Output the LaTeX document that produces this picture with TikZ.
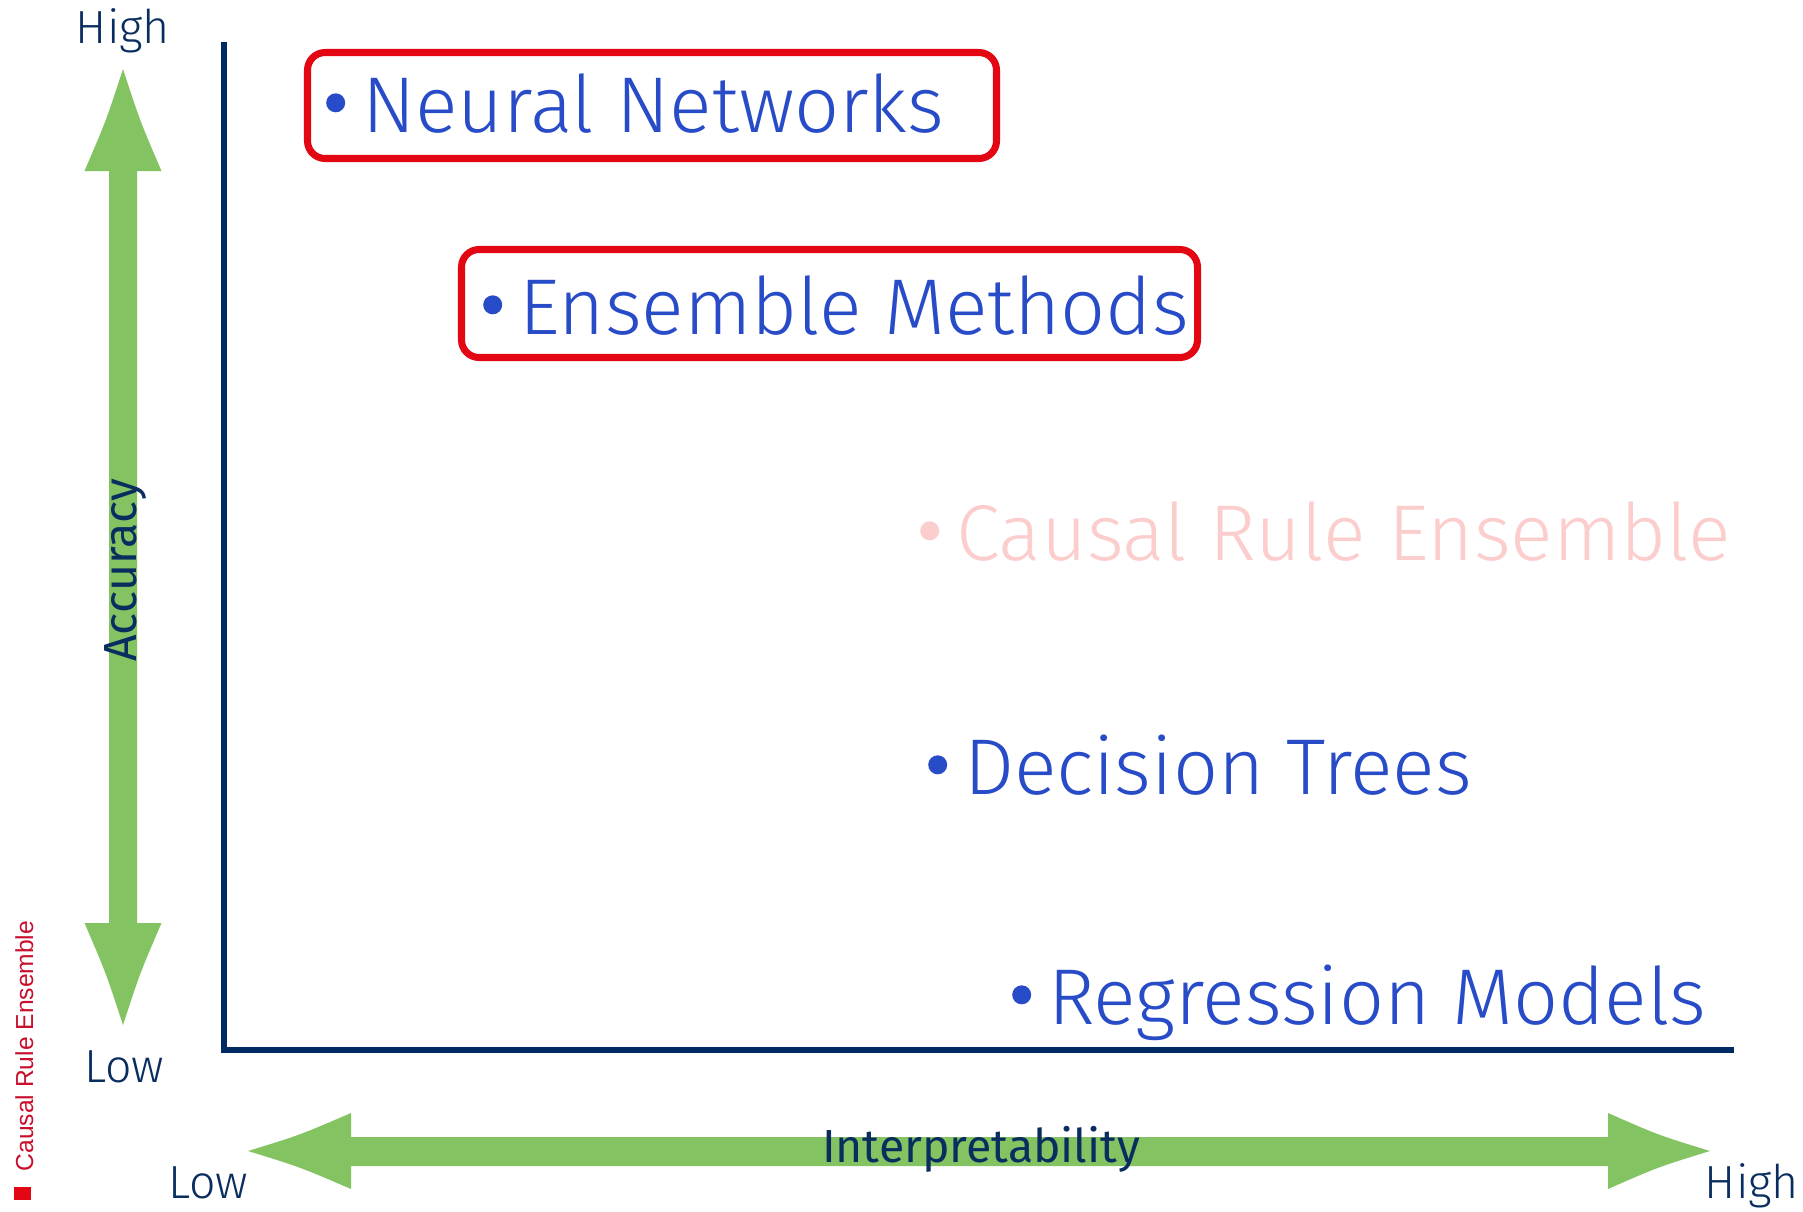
\documentclass[tikz,border=0pt]{standalone}
\usepackage{fontspec}
\setmainfont{Fira Sans}
\newfontfamily\lightfont{Fira Sans Light}
\newfontfamily\sidefont{Liberation Sans}
\usepackage{xcolor}
\usepackage{tikz}

\definecolor{axisnavy}{RGB}{0,42,98}
\definecolor{labelnavy}{RGB}{10,45,95}
\definecolor{itemblue}{RGB}{40,75,200}
\definecolor{arrowgreen}{RGB}{132,195,98}
\definecolor{boxred}{RGB}{227,6,19}
\definecolor{fadedpink}{RGB}{252,205,205}
\definecolor{sidered}{RGB}{200,16,46}

% round bullet in front of each model name
\newcommand{\itemdot}{\tikz[baseline=-8.3pt]\fill (0,0) circle (2.7pt);\hspace{4.8pt}}

\begin{document}
\begin{tikzpicture}[x=0.01cm, y=-0.01cm,
    item/.style={anchor=base west, inner sep=0pt, text=itemblue, font=\lightfont\fontsize{22.5}{27}\selectfont},
    scalelabel/.style={anchor=base, inner sep=0pt, text=labelnavy, font=\lightfont\fontsize{13.2}{16}\selectfont},
    axistitle/.style={anchor=base, inner sep=0pt, text=labelnavy, font=\fontsize{13.2}{16}\selectfont},
    redbox/.style={draw=boxred, line width=2pt, rounded corners=5pt}]
    \fill[white] (0,0) rectangle (1803,1211);
    \useasboundingbox (0,0) rectangle (1803,1211);
    % green double arrows
    \fill[arrowgreen] (123,69) .. controls (106,121) .. (84.5,171) -- (109,171) -- (109,923) -- (84.5,923)
        .. controls (106,973) .. (123,1025) .. controls (140,973) .. (161.5,923) -- (137,923) -- (137,171)
        -- (161.5,171) .. controls (140,121) .. (123,69) -- cycle;
    \fill[arrowgreen] (248,1151) .. controls (300,1135) .. (351,1113) -- (351,1137) -- (1608,1137) -- (1608,1113)
        .. controls (1658,1135) .. (1710,1151) .. controls (1658,1167) .. (1608,1189) -- (1608,1166)
        -- (351,1166) -- (351,1189) .. controls (300,1167) .. (248,1151) -- cycle;
    % axes
    \draw[axisnavy, line width=1.5pt, line join=miter] (224,42) -- (224,1050) -- (1734,1050);
    % axis labels
    \node[scalelabel] (acchigh) at (123,43) {High};
    \node[scalelabel] (acclow) at (124,1082) {Low};
    \node[scalelabel] (intlow) at (208,1198) {Low};
    \node[scalelabel] (inthigh) at (1752,1198) {High};
    \node[axistitle] (interp) at (981,1162) {Interpretability};
    \node[axistitle, rotate=90] (accuracy) at (136,570) {Accuracy};
    % models
    \draw[redbox] (307.5,52.5) rectangle (996.5,158.5);
    \draw[redbox] (461.5,249.5) rectangle (1197.5,357.5);
    \node[item] (neural) at (325.5,132) {\itemdot Neural Networks};
    \node[item] (ensemble) at (482.5,334) {\itemdot Ensemble Methods};
    \node[item, text=fadedpink] (causal) at (919.5,560) {\itemdot Causal Rule Ensemble};
    \node[item] (trees) at (927.5,794) {\itemdot Decision Trees};
    \node[item] (regression) at (1011.5,1024) {\itemdot Regression Models};
    % side tag
    \fill[boxred] (14,1187) rectangle (31,1200);
    \node[anchor=base, inner sep=0pt, rotate=90, text=sidered, font=\sidefont\fontsize{7}{8}\selectfont] (sidetag) at (33,1046) {Causal Rule Ensemble};
\end{tikzpicture}
\end{document}
